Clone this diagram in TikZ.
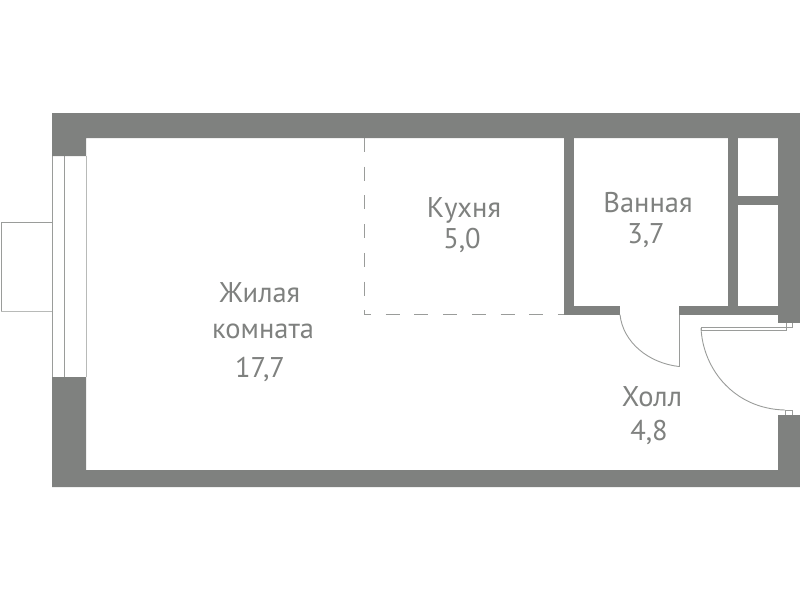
\documentclass[tikz,border=0pt]{standalone}
\usepackage{fontspec}
\setmainfont{PT Sans}
\definecolor{wallgrey}{HTML}{7F817F}
\definecolor{linegrey}{HTML}{9A9C9A}
\definecolor{textgrey}{HTML}{7F817F}
\tikzset{
  wall/.style={fill=wallgrey,draw=none},
  thin line/.style={draw=linegrey,line width=0.9pt},
  zone/.style={draw=linegrey,line width=1pt,dash pattern=on 14pt off 14.7pt},
  label/.style={text=textgrey,font=\fontsize{28.5}{31}\selectfont,anchor=base,inner sep=0pt}
}
\begin{document}
\begin{tikzpicture}[x=1pt,y=-1pt]
\useasboundingbox (0,0) rectangle (800,600);
% window and balcony
\draw[thin line] (52,156) -- (52,377);
\draw[thin line] (64.5,156) -- (64.5,377);
\draw[thin line,draw=linegrey!70] (86,156) -- (86,377);
\draw[thin line] (1,311) -- (1,222) -- (52,222);
\draw[thin line,draw=linegrey!70] (1,311) -- (52,311);
% walls
\fill[wall] (52,113) -- (800,113) -- (800,138) -- (86,138) -- (86,156) -- (52,156) -- cycle;
\fill[wall] (778,113) rectangle (800,323);
\fill[wall] (564,138) rectangle (573.5,314.7);
\fill[wall] (564,305.7) rectangle (620,314.7);
\fill[wall] (679,305.7) rectangle (778,314.7);
\fill[wall] (728,138) rectangle (737.5,305.7);
\fill[wall] (737.5,196) rectangle (778,205);
\fill[wall] (778,415) -- (800,415) -- (800,487) -- (52,487) -- (52,377) -- (86,377)
  -- (86,470) -- (778,470) -- cycle;
% kitchen zone
\draw[zone] (364,138) -- (364,314);
\draw[zone,dash phase=7pt] (364,314) -- (564,314);
% bathroom door
\draw[thin line] (679,314.7) -- (679,366.5);
\draw[thin line] (620,314.7) .. controls (623,342) and (648,363) .. (679,366.5);
% entrance door
\draw[thin line] (786,323) -- (786,330) -- (701,330);
\draw[thin line] (792,323) -- (792,327.5) -- (701,327.5) -- (701,330);
\draw[thin line] (701,328) .. controls (703,370) and (735,409) .. (785,410);
\draw[thin line] (785,415) -- (785,410) -- (792,410) -- (792,415);
% labels
\node[label] (living) at (260,302) {Жилая};
\node[label] (living2) at (263,338) {комната};
\node[label] (livingarea) at (260,377) {17,7};
\node[label] (kitchen) at (464,217) {Кухня};
\node[label] (kitchenarea) at (462,248) {5,0};
\node[label] (bath) at (648,212) {Ванная};
\node[label] (batharea) at (646,243) {3,7};
\node[label] (hall) at (652,406) {Холл};
\node[label] (hallarea) at (649,440) {4,8};
\end{tikzpicture}
\end{document}
